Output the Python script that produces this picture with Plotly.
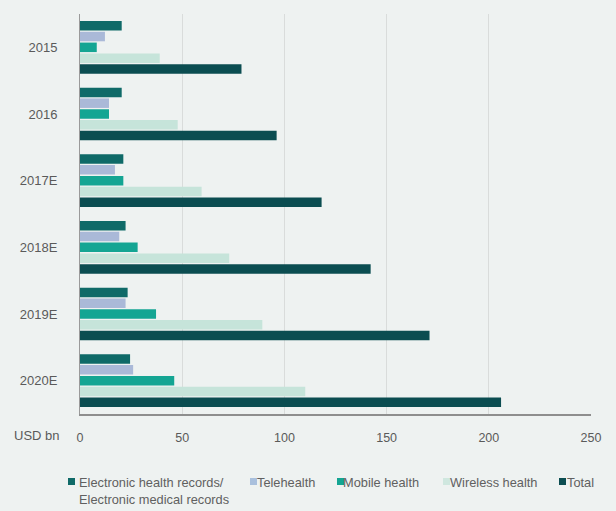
import plotly.graph_objects as go

years = ["2015", "2016", "2017E", "2018E", "2019E", "2020E"]
ehr = [20.4, 20.4, 21.2, 22.3, 23.3, 24.5]
telehealth = [12.2, 14.2, 17.1, 19.2, 22.3, 26.0]
mobile = [8.2, 14.2, 21.2, 28.2, 37.2, 46.1]
wireless = [39.0, 47.8, 59.5, 73.0, 89.2, 110.2]
total = [79.0, 96.2, 118.2, 142.2, 171.0, 206.0]
x_ticks = [0, 50, 100, 150, 200, 250]

series_names = [
    "Electronic health records/<br>Electronic medical records",
    "Telehealth", "Mobile health", "Wireless health", "Total",
]
series_values = [ehr, telehealth, mobile, wireless, total]
series_colors = ["#0f6a68", "#aab9d8", "#14a593", "#c6e4da", "#0b4d51"]
legend_colors = ["#0f6a68", "#a9c0dd", "#14a593", "#cfe7df", "#0b4d51"]

W, H = 616, 511
ml, mr, mt, mb = 80, 25, 14, 97
pw, ph = W - ml - mr, H - mt - mb


def px_x(px):
    return (px - ml) / pw


def px_y(py):
    return (H - mb - py) / ph


fig = go.Figure()
for name, vals, col in zip(series_names, series_values, series_colors):
    fig.add_trace(go.Bar(
        y=years, x=vals, name=name.replace("<br>", " "), orientation="h",
        marker=dict(color=col, line=dict(width=0)),
    ))

font_col = "#5a5a5a"
annotations = [dict(
    text="USD bn", xref="paper", yref="paper",
    x=px_x(12), y=px_y(435), xanchor="left", yanchor="middle",
    showarrow=False, font=dict(size=13, color=font_col),
)]
shapes = []

# custom legend (square + label), positions of each entry in pixels
legend_sq_px = [68, 250, 337, 443, 559]
legend_txt_px = [80, 258, 344, 451, 568]
for name, col, sx, tx in zip(series_names, legend_colors, legend_sq_px, legend_txt_px):
    shapes.append(dict(
        type="rect", xref="paper", yref="paper",
        x0=px_x(sx), x1=px_x(sx + 7), y0=px_y(478), y1=px_y(485),
        fillcolor=col, line=dict(width=0),
    ))
    annotations.append(dict(
        text=name, xref="paper", yref="paper", align="left",
        x=px_x(tx - 2), y=px_y(474), xanchor="left", yanchor="top",
        showarrow=False, borderpad=0,
        font=dict(size=12.8, color="#606060"),
    ))

bg = "#eef2f1"
fig.update_layout(
    width=W, height=H,
    margin=dict(l=ml, r=mr, t=mt, b=mb, autoexpand=False),
    paper_bgcolor=bg, plot_bgcolor=bg,
    barmode="group", bargap=0.19, bargroupgap=0.12,
    font=dict(family="Liberation Sans, Arial, sans-serif", size=12, color=font_col),
    showlegend=False,
    xaxis=dict(
        range=[0, 250], tickvals=x_ticks,
        showgrid=True, gridcolor="#d9dcdb", gridwidth=1,
        zeroline=False, showline=True, linecolor="#8e8e8e", linewidth=2,
        ticks="outside", ticklen=11, tickcolor="rgba(0,0,0,0)",
        tickfont=dict(size=12.5, color=font_col),
    ),
    yaxis=dict(
        autorange="reversed", showgrid=False, zeroline=False,
        showline=True, linecolor="#9a9a9a", linewidth=1,
        ticks="outside", ticklen=19, tickcolor="rgba(0,0,0,0)",
        tickfont=dict(size=13, color=font_col),
    ),
    annotations=annotations,
    shapes=shapes,
)

fig.write_html("out.html")
